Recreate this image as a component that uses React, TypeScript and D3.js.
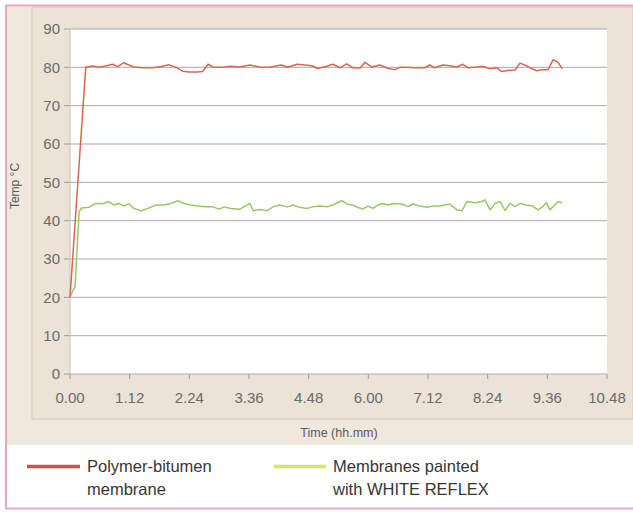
import React from "react";
import * as d3 from "d3";

// time in minutes since start, temperature in °C
const redTime = [0,19,27,35,43,51.5,57.5,65,71,77,88,100,110,119,128,136,143.5,154,160,166.5,172.5,184.5,193,205,217,229,241,255,263,274,283.5,292,299,310,317,326,334,341,350,356,364,374,384,392,398,404,416,428,434,440,450,458,467,474,480,491,498,507,515,521,528,537,543,551,557,563,571,577,583,589,594];
const redTemp = [20,80,80.35,80,80.35,80.8,80.2,81.2,80.6,80.1,79.9,79.9,80.2,80.7,80,79.0,78.8,78.8,78.9,80.8,80.1,80,80.3,80.1,80.6,80.1,80,80.6,80,80.8,80.6,80.4,79.7,80.3,80.8,79.9,80.9,79.9,79.8,81.3,80.1,80.6,79.7,79.4,80,80,79.9,79.9,80.6,79.9,80.6,80.4,80.1,80.8,79.9,80.1,80.3,79.6,79.9,78.9,79.2,79.3,81.1,80.4,79.7,79.1,79.4,79.4,82.0,81.3,79.6];

const greenTime = [0,6,11,14,23,31,40,46,53,59,65,71,77,86,94,104,113,122,130,137.5,146,154,164,172.5,180,186,194,205,217,221,229,238,245,253,262,269,277,286,293,302,310,317,328,335,341,347,353,359.5,365.5,371.5,377.5,383.6,390,395.6,400.5,408,414,422,431,438,446,452,458,467,473,479,488.5,497,500.6,507,513,519,525,531,537,543,551,558.5,564.5,570.6,575,579,585,589,594];
const greenTemp = [20.2,22.7,42.3,43.3,43.5,44.5,44.4,45.0,44.1,44.5,43.8,44.4,43.2,42.6,43.2,44.1,44.1,44.5,45.2,44.5,44.1,43.8,43.6,43.6,43.0,43.6,43.2,43.0,44.5,42.6,42.9,42.6,43.6,44.1,43.6,44.1,43.5,43.2,43.6,43.8,43.6,44.1,45.2,44.3,44.1,43.5,43.0,43.8,43.2,44.1,44.5,44.1,44.5,44.4,44.35,43.65,44.35,43.8,43.5,43.8,43.8,44.1,44.35,42.8,42.6,45.0,44.7,45.0,45.4,42.8,44.5,45.0,42.6,44.5,43.65,44.5,44.1,43.8,42.8,43.65,44.7,42.8,44.1,45.0,44.6];

const xTickMinutes = [0,72,144,216,288,360,432,504,576,648];
const xTickLabels = ["0.00","1.12","2.24","3.36","4.48","6.00","7.12","8.24","9.36","10.48"];
const yTicks = [0,10,20,30,40,50,60,70,80,90];

const seriesNames = [["Polymer-bitumen", "membrane"], ["Membranes painted", "with WHITE REFLEX"]];

const W = 633, H = 512;
const PL = 70, PR = 607, PT = 29, PB = 374;

export default function App() {
  const x = d3.scaleLinear().domain([0, 648]).range([PL, PR]);
  const y = d3.scaleLinear().domain([0, 90]).range([PB, PT]);
  const line = d3.line<[number, number]>()
    .x(d => x(d[0]))
    .y(d => y(d[1]))
    .curve(d3.curveLinear);
  const redPts = redTime.map((t, i) => [t, redTemp[i]] as [number, number]);
  const greenPts = greenTime.map((t, i) => [t, greenTemp[i]] as [number, number]);
  const font = "'Liberation Sans', Arial, sans-serif";

  return (
    <svg width={W} height={H} style={{ position: "absolute", left: 0, top: 0, display: "block" }} fontFamily={font}>
      <rect x={0} y={0} width={W} height={H} fill="#ffffff" />
      {/* beige panel */}
      <rect x={6} y={6} width={W - 6} height={439} fill="#f1e8dd" />
      <rect x={32} y={7} width={W - 32} height={412} fill="#ece2d5" stroke="#d8c9b9" strokeWidth={1} />
      {/* pink border */}
      <rect x={6} y={5.5} width={W + 10} height={503} fill="none" stroke="#e9a9c4" strokeWidth={2} />
      {/* plot area */}
      <rect x={PL} y={PT} width={PR - PL} height={PB - PT} fill="#ffffff" />
      {yTicks.map(v => (
        <g key={v}>
          <line x1={PL} x2={PR} y1={y(v)} y2={y(v)} stroke={v === 0 ? "#b5aaa8" : "#b9a2ae"} strokeWidth={1} />
          <line x1={PL - 6} x2={PL} y1={y(v)} y2={y(v)} stroke="#9a9a9a" strokeWidth={1} />
          <text x={PL - 10} y={y(v)} dy="0.35em" textAnchor="end" fontSize={15} fill="#6b6b6b">{v}</text>
        </g>
      ))}
      <line x1={PL} x2={PL} y1={PT} y2={PB} stroke="#c8c0bc" strokeWidth={1} />
      {xTickMinutes.map((m, i) => (
        <g key={m}>
          <line x1={x(m)} x2={x(m)} y1={PB} y2={PB + 5} stroke="#9a9a9a" strokeWidth={1} />
          <text x={x(m)} y={398} dy="0.35em" textAnchor="middle" fontSize={15} fill="#6b6b6b">{xTickLabels[i]}</text>
        </g>
      ))}
      <text transform="translate(19,186) rotate(-90)" textAnchor="middle" fontSize={12} fill="#5a5a5a">Temp °C</text>
      <text x={339} y={437} textAnchor="middle" fontSize={12.5} fill="#5a5a5a">Time (hh.mm)</text>
      {/* series */}
      <path d={line(greenPts) || ""} fill="none" stroke="#98c866" strokeWidth={1.5} strokeLinejoin="round" />
      <path d={line(redPts) || ""} fill="none" stroke="#d9674f" strokeWidth={1.5} strokeLinejoin="round" />
      {/* legend */}
      <line x1={27} x2={80} y1={466.5} y2={466.5} stroke="#c2584b" strokeWidth={3.5} />
      <text x={87} y={472} fontSize={16.5} fill="#363636">{seriesNames[0][0]}</text>
      <text x={87} y={495} fontSize={16.5} fill="#363636">{seriesNames[0][1]}</text>
      <line x1={274} x2={326} y1={466.5} y2={466.5} stroke="#d3e85c" strokeWidth={3.5} />
      <text x={333} y={472} fontSize={16.5} fill="#363636">{seriesNames[1][0]}</text>
      <text x={333} y={495} fontSize={16.5} fill="#363636">{seriesNames[1][1]}</text>
    </svg>
  );
}
